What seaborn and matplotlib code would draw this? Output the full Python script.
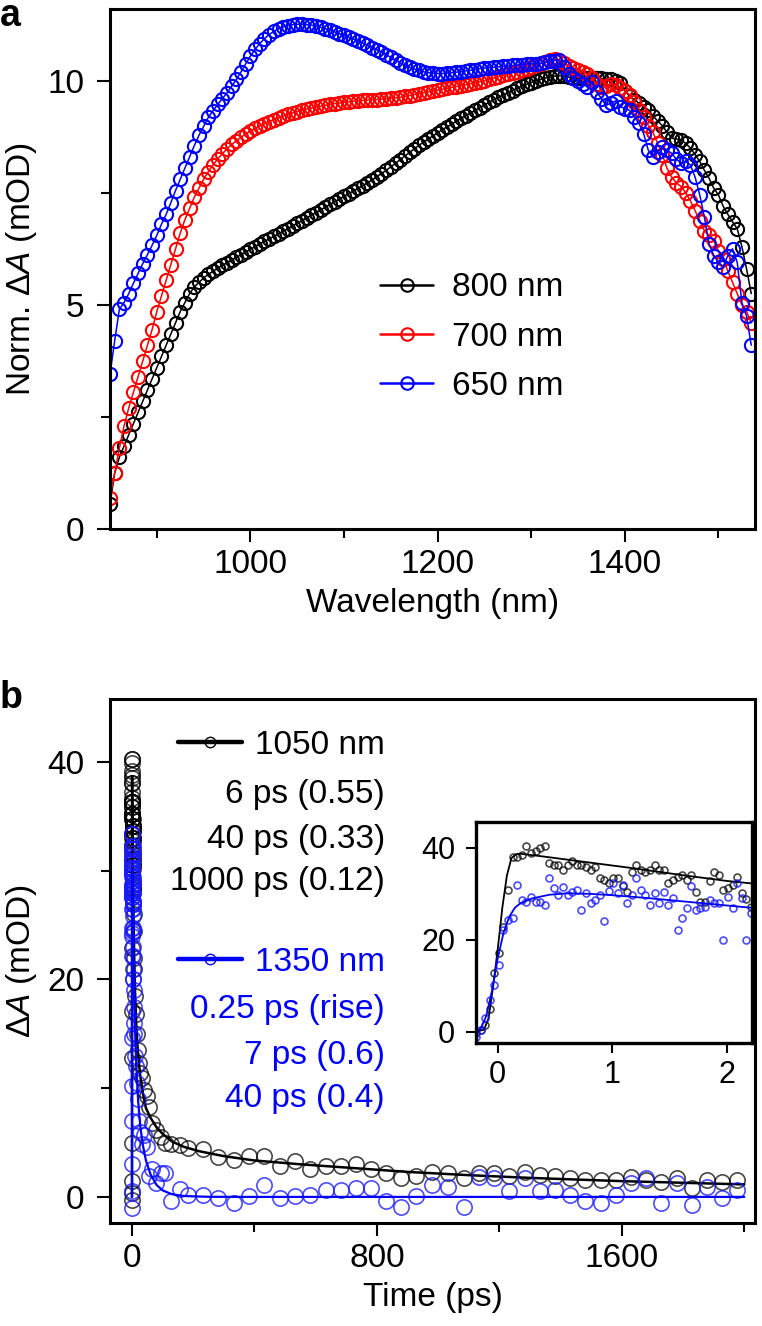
import matplotlib
matplotlib.use("Agg")
import matplotlib.pyplot as plt
import seaborn as sns
from matplotlib.lines import Line2D
from matplotlib.ticker import MultipleLocator

# ---------- panel a: normalised spectra ----------
wavelength = [
    850, 855, 860, 865, 870, 875, 880, 885, 890, 895,
    900, 905, 910, 915, 920, 925, 930, 935, 940, 945,
    950, 955, 960, 965, 970, 975, 980, 985, 990, 995,
    1000, 1005, 1010, 1015, 1020, 1025, 1030, 1035, 1040, 1045,
    1050, 1055, 1060, 1065, 1070, 1075, 1080, 1085, 1090, 1095,
    1100, 1105, 1110, 1115, 1120, 1125, 1130, 1135, 1140, 1145,
    1150, 1155, 1160, 1165, 1170, 1175, 1180, 1185, 1190, 1195,
    1200, 1205, 1210, 1215, 1220, 1225, 1230, 1235, 1240, 1245,
    1250, 1255, 1260, 1265, 1270, 1275, 1280, 1285, 1290, 1295,
    1300, 1305, 1310, 1315, 1320, 1325, 1330, 1335, 1340, 1345,
    1350, 1355, 1360, 1365, 1370, 1375, 1380, 1385, 1390, 1395,
    1400, 1405, 1410, 1415, 1420, 1425, 1430, 1435, 1440, 1445,
    1450, 1455, 1460, 1465, 1470, 1475, 1480, 1485, 1490, 1495,
    1500, 1505, 1510, 1515, 1520, 1525, 1530, 1535,
]
exc_800 = [
    0.55, 1.25, 1.6, 1.85, 2.1, 2.35, 2.6, 2.85, 3.1, 3.35,
    3.6, 3.85, 4.1, 4.35, 4.6, 4.85, 5.05, 5.25, 5.4, 5.5,
    5.6, 5.68, 5.75, 5.82, 5.88, 5.94, 6.0, 6.06, 6.12, 6.18,
    6.24, 6.3, 6.36, 6.42, 6.47, 6.53, 6.58, 6.64, 6.7, 6.76,
    6.82, 6.88, 6.94, 7.0, 7.06, 7.12, 7.18, 7.24, 7.3, 7.36,
    7.42, 7.48, 7.54, 7.6, 7.66, 7.72, 7.79, 7.86, 7.93, 8.0,
    8.08, 8.16, 8.24, 8.32, 8.4, 8.48, 8.56, 8.63, 8.7, 8.77,
    8.84, 8.91, 8.97, 9.03, 9.1, 9.16, 9.22, 9.28, 9.34, 9.4,
    9.46, 9.52, 9.58, 9.63, 9.68, 9.73, 9.78, 9.83, 9.88, 9.92,
    9.96, 10.0, 10.03, 10.06, 10.08, 10.1, 10.11, 10.1, 10.08, 10.07,
    10.06, 10.05, 10.05, 10.06, 10.07, 10.05, 10.04, 10.03, 10.0, 9.95,
    9.78, 9.65, 9.58, 9.5, 9.42, 9.35, 9.22, 9.1, 9.0, 8.85,
    8.72, 8.7, 8.68, 8.6, 8.5, 8.35, 8.2, 8.0, 7.82, 7.6,
    7.45, 7.2, 7.02, 6.85, 6.7, 6.3, 5.8, 5.25,
]
exc_700 = [
    0.7, 1.25, 1.8, 2.3, 2.7, 3.05, 3.4, 3.75, 4.1, 4.45,
    4.85, 5.2, 5.55, 5.9, 6.25, 6.6, 6.9, 7.15, 7.4, 7.6,
    7.8, 7.97, 8.12, 8.25, 8.37, 8.48, 8.58, 8.66, 8.74, 8.81,
    8.88, 8.94, 8.99, 9.04, 9.09, 9.13, 9.17, 9.21, 9.25, 9.28,
    9.31, 9.34, 9.37, 9.39, 9.41, 9.43, 9.45, 9.47, 9.49, 9.5,
    9.52, 9.53, 9.54, 9.55, 9.56, 9.57, 9.58, 9.58, 9.59, 9.6,
    9.61, 9.62, 9.63, 9.65, 9.67, 9.69, 9.71, 9.73, 9.75, 9.77,
    9.79, 9.81, 9.83, 9.85, 9.87, 9.89, 9.91, 9.93, 9.95, 9.98,
    10.0, 10.03, 10.06, 10.09, 10.12, 10.15, 10.18, 10.2, 10.23, 10.27,
    10.3, 10.34, 10.38, 10.42, 10.46, 10.48, 10.45, 10.4, 10.33, 10.28,
    10.24, 10.2, 10.15, 10.05, 9.92, 9.85, 9.88, 9.93, 9.9, 9.84,
    9.78, 9.68, 9.52, 9.35, 9.18, 9.0, 8.85, 8.6, 8.35, 8.05,
    7.85, 7.72, 7.64, 7.5, 7.32, 7.1, 6.88, 6.65, 6.55, 6.42,
    6.2, 6.02, 5.75, 5.5, 5.25, 5.0, 4.85, 4.6,
]
exc_650 = [
    3.45, 4.2, 4.9, 5.05, 5.25, 5.48, 5.7, 5.92, 6.12, 6.33,
    6.55, 6.8, 7.02, 7.28, 7.55, 7.8, 8.05, 8.3, 8.55, 8.78,
    8.98, 9.18, 9.33, 9.47, 9.6, 9.73, 9.88, 10.03, 10.2, 10.38,
    10.55, 10.7, 10.83, 10.94, 11.03, 11.1, 11.16, 11.2, 11.23, 11.25,
    11.26, 11.26, 11.25, 11.24, 11.22, 11.19, 11.16, 11.13, 11.09, 11.05,
    11.01, 10.97, 10.93, 10.89, 10.84, 10.79, 10.74, 10.69, 10.64, 10.58,
    10.52, 10.46, 10.4, 10.34, 10.3, 10.26, 10.23, 10.2, 10.18, 10.17,
    10.16, 10.16, 10.17, 10.18, 10.19, 10.2, 10.22, 10.23, 10.25, 10.27,
    10.28, 10.29, 10.3, 10.31, 10.32, 10.33, 10.34, 10.35, 10.36, 10.37,
    10.38, 10.38, 10.39, 10.41, 10.43, 10.45, 10.46, 10.3, 10.15, 10.05,
    10.0, 9.93, 9.86, 9.97, 9.75, 9.6, 9.45, 9.5, 9.55, 9.42,
    9.38, 9.34, 9.2, 9.05, 8.82, 8.45, 8.3, 8.4, 8.52, 8.45,
    8.38, 8.25, 8.16, 8.2, 8.12, 7.85, 7.45, 6.95, 6.35, 6.1,
    5.95, 5.85, 6.1, 6.25, 5.95, 5.05, 4.75, 4.1,
]
spec_labels = ["800 nm", "700 nm", "650 nm"]
spec_colors = ["black", "red", "blue"]

# ---------- panel b: kinetics ----------
# early delays (inset range, ps)
early_t = [
    -0.19, -0.15, -0.11, -0.07, -0.03, 0.01, 0.05, 0.09, 0.13, 0.17,
    0.21, 0.25, 0.29, 0.33, 0.37, 0.41, 0.45, 0.49, 0.53, 0.57,
    0.61, 0.65, 0.69, 0.73, 0.77, 0.81, 0.85, 0.89, 0.93, 0.97,
    1.01, 1.05, 1.09, 1.13, 1.17, 1.21, 1.25, 1.29, 1.33, 1.37,
    1.41, 1.45, 1.49, 1.53, 1.57, 1.61, 1.65, 1.69, 1.73, 1.77,
    1.81, 1.85, 1.89, 1.93, 1.97, 2.01, 2.05, 2.09, 2.13, 2.17, 2.21,
]
early_1050 = [
    -0.3, 0.4, 1.5, 5.0, 12.8, 17.1, 22.9, 30.9, 38.1, 38.1,
    38.5, 40.3, 38.8, 39.2, 39.9, 40.3, 36.7, 36.3, 36.3, 35.2,
    36.3, 37.2, 36.3, 36.3, 35.9, 35.2, 35.9, 33.4, 33.0, 32.4,
    33.4, 33.4, 31.6, 30.5, 34.8, 36.3, 35.2, 34.8, 35.2, 36.3,
    35.2, 35.2, 32.3, 33.0, 33.7, 34.1, 33.0, 34.1, 30.5, 28.3,
    28.3, 32.7, 34.8, 34.1, 30.9, 31.2, 32.0, 33.7, 30.2, 28.8, 27.1,
]
early_1350 = [
    -1.0, 0.5, 3.0, 7.0, 10.2, 14.6, 22.2, 24.3, 24.7, 32.0,
    28.7, 28.3, 29.4, 28.3, 28.3, 27.6, 33.4, 31.2, 29.8, 31.4,
    29.8, 30.3, 30.9, 26.5, 30.2, 28.1, 28.7, 29.8, 24.0, 30.7,
    32.3, 30.2, 32.0, 28.0, 29.8, 33.4, 30.9, 29.8, 27.6, 30.2,
    28.0, 30.3, 27.6, 29.1, 22.2, 24.7, 26.9, 31.6, 26.5, 26.9,
    27.2, 28.7, 28.0, 28.0, 20.0, 29.4, 26.9, 32.3, 29.1, 20.0, 25.8,
]
# later delays (ps)
late_t = [
    2.5, 3, 4, 5, 6, 7, 8, 10, 12, 15, 18, 22, 27, 32, 40, 48, 57, 66, 77,
    95, 107, 128, 156, 184, 232, 282, 332, 383, 432, 482, 532, 582, 632,
    682, 731, 780, 830, 879, 929, 980, 1031, 1084, 1133, 1183, 1233, 1283,
    1333, 1382, 1432, 1481, 1531, 1581, 1630, 1680, 1729, 1779, 1829, 1878,
    1928, 1977,
]
late_1050 = [
    31.5, 30.5, 28.5, 26.0, 24.5, 22.0, 21.0, 18.5, 16.8, 15.0, 13.5, 12.3,
    11.4, 10.9, 9.8, 9.3, 8.3, 6.8, 6.2, 5.5, 5.0, 4.9, 4.75, 4.5, 4.4, 3.7,
    3.4, 3.8, 3.8, 2.8, 3.3, 2.6, 2.8, 2.85, 3.0, 2.6, 2.2, 1.75, 1.9, 2.3,
    2.2, 1.75, 2.2, 2.2, 1.9, 2.3, 2.0, 1.9, 1.75, 1.6, 1.6, 1.55, 1.85, 1.6,
    1.4, 1.7, 0.8, 1.55, 1.4, 1.55,
]
late_1350 = [
    24.5, 23.0, 21.0, 19.0, 17.5, 16.0, 15.0, 13.0, 12.0, 10.5, 9.0, 7.0,
    6.0, 4.9, 5.7, 4.6, 1.9, 2.6, 1.3, 2.2, 2.2, -0.4, 0.7, 0.2, 0.2, -0.1,
    -0.55, 0.05, 1.1, -0.1, 0.05, 0.2, 0.65, 0.65, 0.8, 0.8, -0.4, -0.9,
    0.05, 1.1, 0.95, -0.9, 1.85, 1.7, 0.5, 1.7, 0.5, 0.65, 0.2, -0.4, -0.55,
    0.2, 1.25, 1.7, -0.55, 1.25, -0.7, 0.95, -0.1, 0.65,
]
# fitted curves
fit_t_1050 = [
    -0.2, -0.12, -0.08, -0.04, 0.0, 0.04, 0.08, 0.12, 0.16, 0.2, 0.4, 0.8,
    1.2, 1.6, 2.0, 2.2, 3, 4, 5, 7, 10, 14, 20, 27, 35, 45, 60, 80, 100,
    130, 170, 220, 300, 400, 550, 700, 900, 1100, 1300, 1600, 1800, 2000,
]
fit_1050 = [
    0.0, 0.5, 3.0, 10.0, 18.0, 27.0, 34.0, 37.8, 38.6, 38.7, 38.1, 36.8,
    35.5, 34.1, 32.8, 32.3, 30.0, 27.6, 25.6, 22.2, 18.8, 15.7, 13.0, 11.1,
    9.6, 8.2, 7.3, 6.4, 5.8, 5.1, 4.6, 4.2, 3.75, 3.35, 3.0, 2.7, 2.3, 2.0,
    1.75, 1.45, 1.3, 1.15,
]
fit_t_1350 = [
    -0.2, -0.15, -0.1, -0.05, 0.0, 0.05, 0.1, 0.15, 0.2, 0.3, 0.45, 0.6,
    0.8, 1.0, 1.3, 1.6, 1.9, 2.2, 3, 4, 5, 7, 10, 14, 20, 27, 35, 45, 60,
    80, 100, 130, 170, 250, 400, 1000, 2000,
]
fit_1350 = [
    0.0, 0.6, 3.5, 9.0, 16.0, 21.5, 25.0, 27.0, 28.0, 29.0, 29.8, 30.1,
    30.0, 29.7, 29.1, 28.4, 27.7, 27.0, 25.0, 23.2, 21.5, 18.6, 15.2, 12.0,
    8.8, 6.5, 4.8, 3.4, 2.1, 1.1, 0.6, 0.25, 0.08, 0.01, 0.0, 0.0, 0.0,
]
lines_1050 = ["6 ps (0.55)", "40 ps (0.33)", "1000 ps (0.12)"]
lines_1350 = ["0.25 ps (rise)", "7 ps (0.6)", "40 ps (0.4)"]

# ---------- style ----------
sns.set_theme(style="ticks")
plt.rcParams['font.family'] = ['Liberation Sans', 'DejaVu Sans']
plt.rcParams['mathtext.fontset'] = 'custom'
plt.rcParams['mathtext.rm'] = 'Liberation Sans'
plt.rcParams['mathtext.it'] = 'Liberation Sans:italic'
plt.rcParams['mathtext.bf'] = 'Liberation Sans:bold'
plt.rcParams['text.color'] = 'black'
plt.rcParams['axes.labelcolor'] = 'black'
plt.rcParams['legend.labelcolor'] = 'black'

FS = 24
K_FADE = (0, 0, 0, 0.72)
B_FADE = (0.1, 0.1, 1.0, 0.78)


def style_axes(ax, size=FS, spine=2.2, major=9.5, minor=6.5, xpad=5, ypad=9):
    for s in ax.spines.values():
        s.set_linewidth(spine)
        s.set_color("black")
    ax.tick_params(which="both", direction="out", color="black", width=1.5,
                   labelsize=size, labelcolor="black")
    ax.tick_params(which="major", length=major)
    ax.tick_params(which="minor", length=minor)
    ax.tick_params(axis="x", pad=xpad)
    ax.tick_params(axis="y", pad=ypad)


fig = plt.figure(figsize=(7.62, 13.26), dpi=100)
W, H = 762, 1326
ax_a = fig.add_axes([110 / W, 1 - 529 / H, 645 / W, 520 / H])
ax_b = fig.add_axes([110 / W, 1 - 1223 / H, 645 / W, 524 / H])
ax_in = fig.add_axes([476 / W, 1 - 1043 / H, 276 / W, 221 / H])

# ---------- panel a ----------
for vals, col in zip([exc_800, exc_700, exc_650], spec_colors):
    sns.lineplot(x=wavelength, y=vals, ax=ax_a, color=col, linewidth=1.1,
                 marker="o", markersize=9.5, markerfacecolor="none",
                 markeredgecolor=col, markeredgewidth=1.5, estimator=None)

ax_a.set_xlim(850, 1539)
ax_a.set_ylim(0, 11.6)
ax_a.xaxis.set_major_locator(MultipleLocator(200))
ax_a.xaxis.set_minor_locator(MultipleLocator(100))
ax_a.yaxis.set_major_locator(MultipleLocator(5))
ax_a.yaxis.set_minor_locator(MultipleLocator(2.5))
ax_a.set_xlabel("Wavelength (nm)", fontsize=FS, labelpad=6)
ax_a.set_ylabel(r"Norm. $\mathit{\Delta A}$ (mOD)", fontsize=FS, labelpad=6)
style_axes(ax_a)

handles_a = [Line2D([], [], color=c, lw=1.8, marker="o", markersize=9,
                    markerfacecolor="none", markeredgewidth=1.5)
             for c in spec_colors]
ax_a.legend(handles_a, spec_labels, loc="center left",
            bbox_to_anchor=(0.4186, 0.369), frameon=False, fontsize=FS,
            handlelength=1.6, handletextpad=0.55, labelspacing=0.55,
            borderpad=0, borderaxespad=0, labelcolor="black")

# ---------- panel b ----------
all_t = early_t + late_t
sns.lineplot(x=all_t, y=early_1050 + late_1050, ax=ax_b, linestyle="none",
             marker="o", markersize=11, markerfacecolor="none",
             markeredgecolor=K_FADE, markeredgewidth=1.2, estimator=None,
             sort=False)
sns.lineplot(x=fit_t_1050, y=fit_1050, ax=ax_b, color="black",
             linewidth=1.8, estimator=None)
sns.lineplot(x=all_t, y=early_1350 + late_1350, ax=ax_b, linestyle="none",
             marker="o", markersize=11, markerfacecolor="none",
             markeredgecolor=B_FADE, markeredgewidth=1.2, estimator=None,
             sort=False)
sns.lineplot(x=fit_t_1350, y=fit_1350, ax=ax_b, color="blue",
             linewidth=1.6, estimator=None)

ax_b.set_xlim(-72, 2035)
ax_b.set_ylim(-2.4, 45.8)
ax_b.xaxis.set_major_locator(MultipleLocator(800))
ax_b.xaxis.set_minor_locator(MultipleLocator(400))
ax_b.yaxis.set_major_locator(MultipleLocator(20))
ax_b.yaxis.set_minor_locator(MultipleLocator(10))
ax_b.set_xlabel("Time (ps)", fontsize=FS, labelpad=6)
ax_b.set_ylabel(r"$\mathit{\Delta A}$ (mOD)", fontsize=FS, labelpad=6)
style_axes(ax_b)

# legend entries with the fit parameters underneath
kw_leg = dict(frameon=False, fontsize=FS, handlelength=1.9,
              handletextpad=0.4, borderpad=0, borderaxespad=0,
              loc="center right")
h_k = Line2D([], [], color="black", lw=3.2, marker="o", markersize=7.5,
             markerfacecolor="none", markeredgewidth=1.0)
h_b = Line2D([], [], color="blue", lw=3.2, marker="o", markersize=7.5,
             markerfacecolor="none", markeredgewidth=1.0)
leg1 = ax_b.legend([h_k], ["1050 nm"], bbox_to_anchor=(0.4264, 0.912),
                   labelcolor="black", **kw_leg)
ax_b.add_artist(leg1)
ax_b.legend([h_b], ["1350 nm"], bbox_to_anchor=(0.4264, 0.498),
            labelcolor="blue", **kw_leg)
for txt, yy in zip(lines_1050, [0.817, 0.731, 0.651]):
    ax_b.text(0.4264, yy, txt, transform=ax_b.transAxes, ha="right",
              va="center", fontsize=FS, color="black")
for txt, yy in zip(lines_1350, [0.4065, 0.3206, 0.2385]):
    ax_b.text(0.4264, yy, txt, transform=ax_b.transAxes, ha="right",
              va="center", fontsize=FS, color="blue")

# ---------- inset ----------
ax_in.set_facecolor("white")
sns.lineplot(x=early_t, y=early_1050, ax=ax_in, linestyle="none", marker="o",
             markersize=5, markerfacecolor="none", markeredgecolor=K_FADE,
             markeredgewidth=1.2, estimator=None, sort=False)
sns.lineplot(x=fit_t_1050, y=fit_1050, ax=ax_in, color="black", linewidth=1.3,
             estimator=None)
sns.lineplot(x=early_t, y=early_1350, ax=ax_in, linestyle="none", marker="o",
             markersize=5, markerfacecolor="none", markeredgecolor=B_FADE,
             markeredgewidth=1.2, estimator=None, sort=False)
sns.lineplot(x=fit_t_1350, y=fit_1350, ax=ax_in, color="blue", linewidth=1.3,
             estimator=None)
ax_in.set_xlim(-0.19, 2.22)
ax_in.set_ylim(-2.4, 45.6)
ax_in.xaxis.set_major_locator(MultipleLocator(1))
ax_in.yaxis.set_major_locator(MultipleLocator(20))
ax_in.set_xlabel("")
ax_in.set_ylabel("")
style_axes(ax_in, size=22, spine=2.4, major=7, minor=0, xpad=5, ypad=8)

# panel letters
fig.text(0.0, 1 - 16 / H, "a", fontsize=27, fontweight="bold", va="center")
fig.text(0.0, 1 - 698 / H, "b", fontsize=27, fontweight="bold", va="center")

fig.savefig("out.png", dpi=100)
